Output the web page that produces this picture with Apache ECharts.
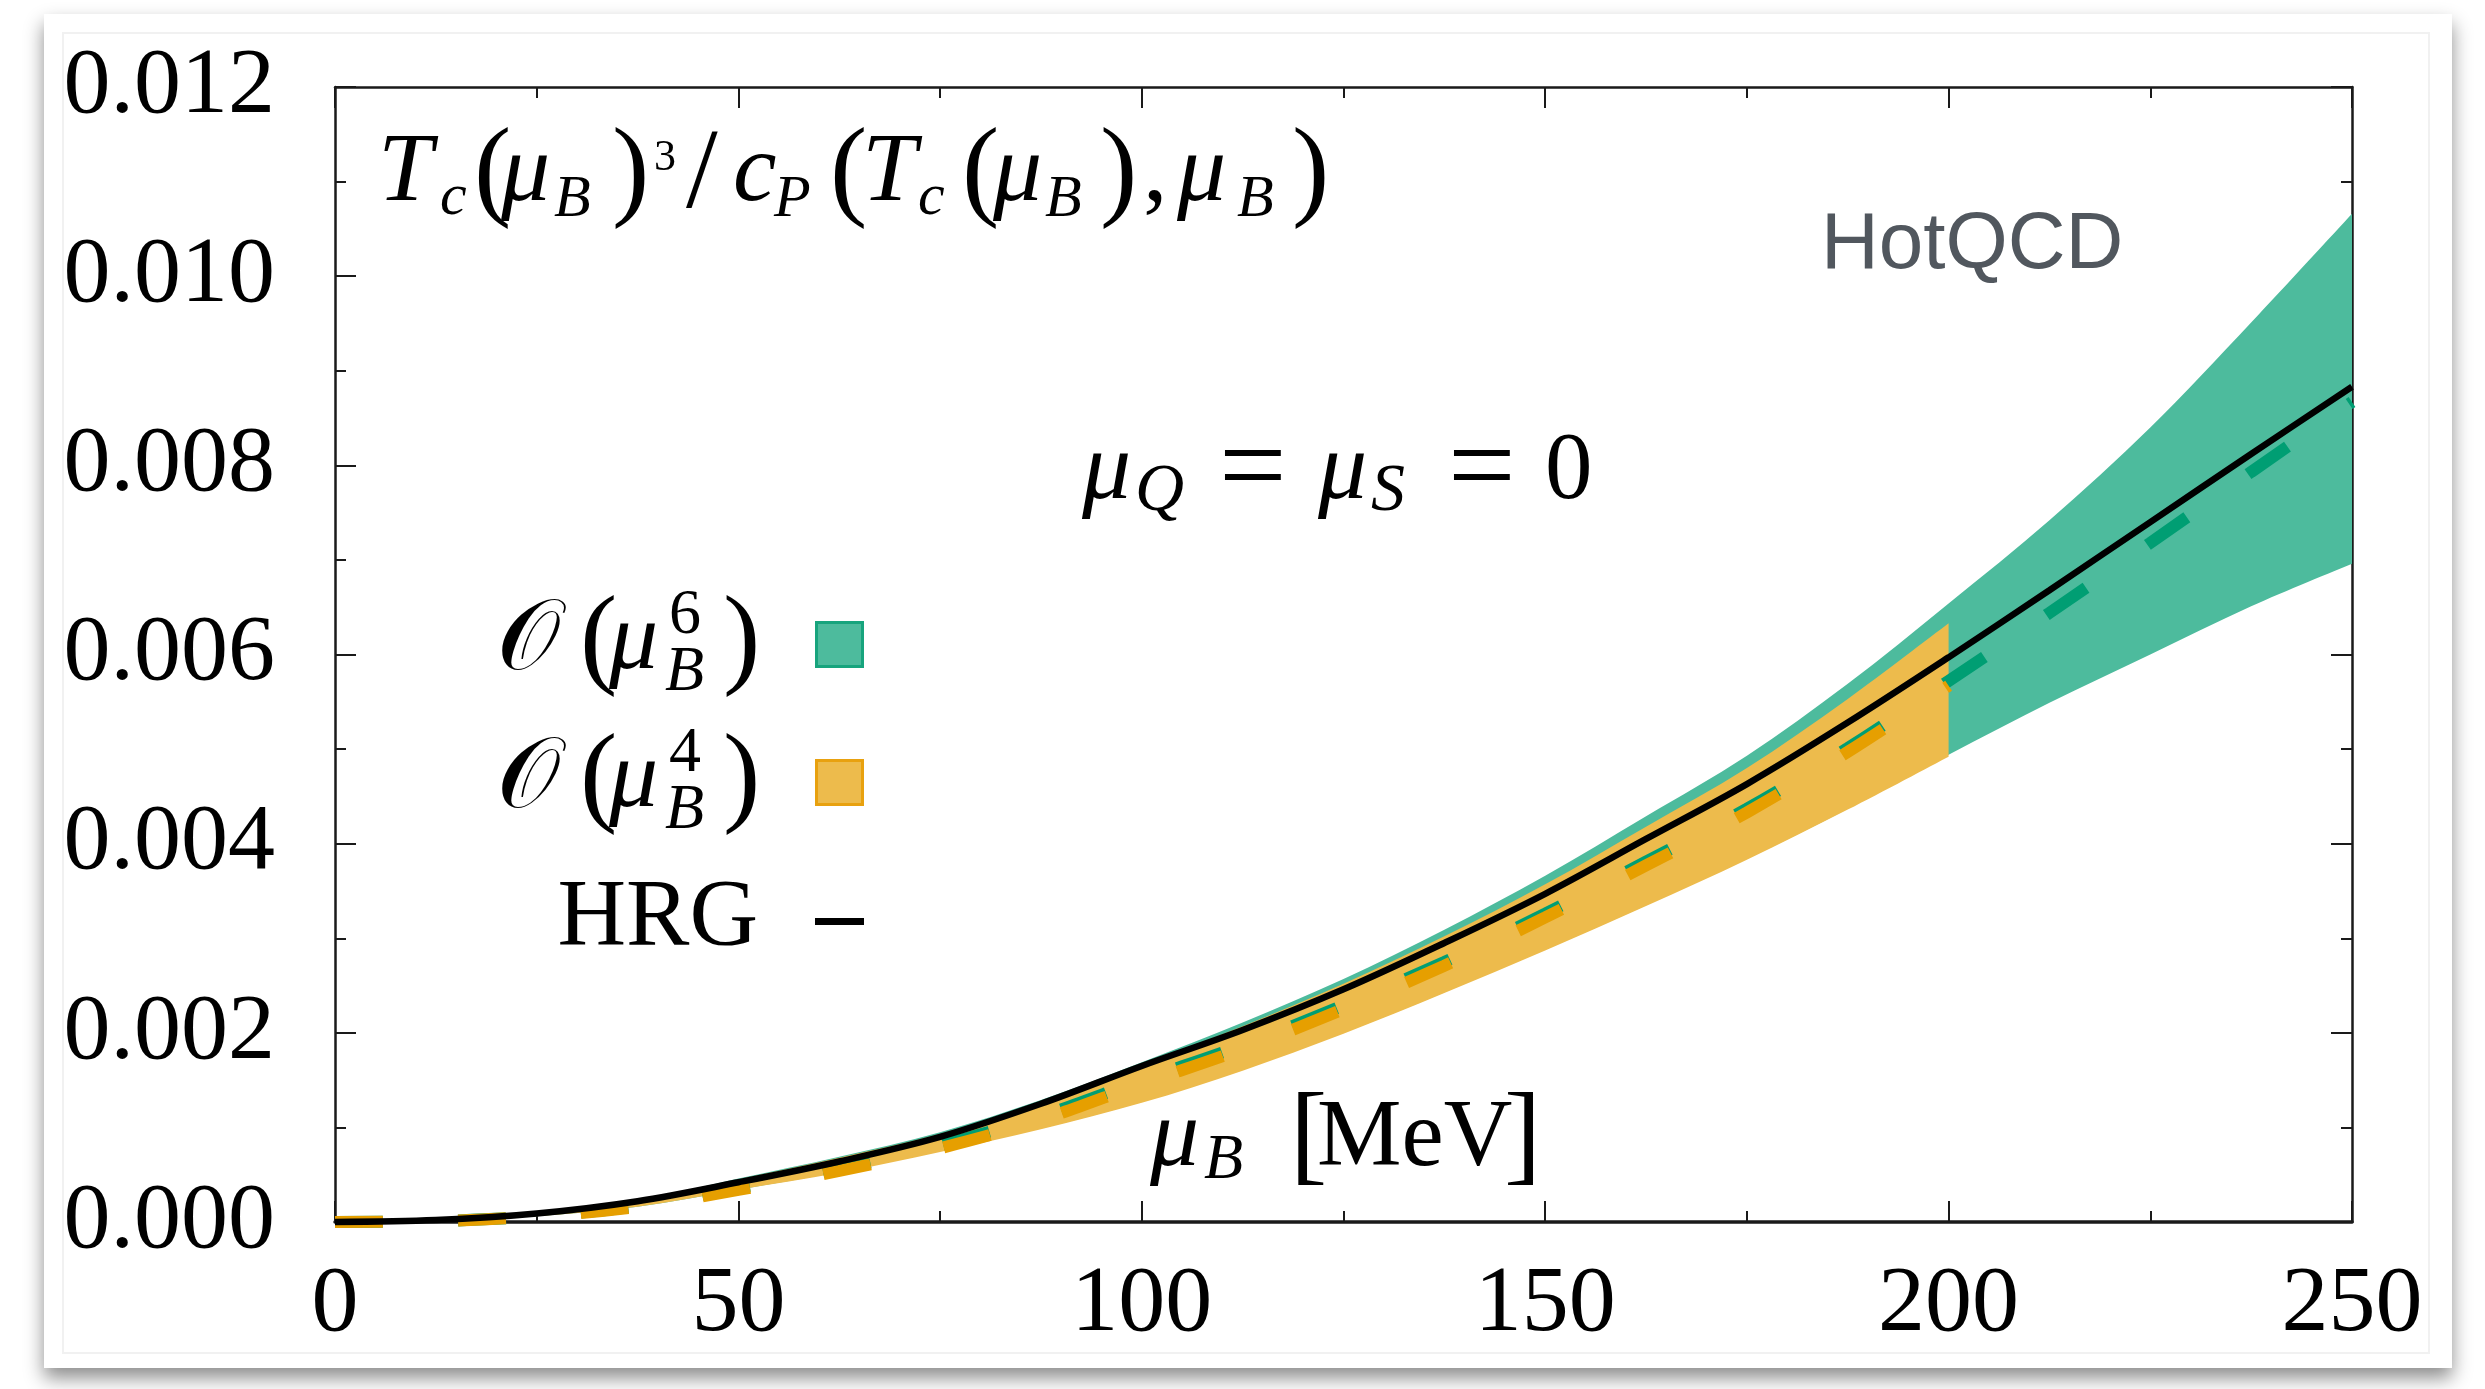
<!DOCTYPE html>
<html>
<head>
<meta charset="utf-8">
<script src="https://cdn.jsdelivr.net/npm/echarts@6/dist/echarts.min.js"></script>
<style>
  html, body { margin: 0; padding: 0; background: #ffffff; }
  #chart { width: 2485px; height: 1389px; }
</style>
</head>
<body>
<div id="chart"></div>
<script>
// Baryon chemical potential grid [MeV]
const muB = [0, 12.5, 25, 37.5, 50, 62.5, 75, 87.5, 100, 112.5, 125, 137.5, 150, 162.5, 175, 187.5, 200, 212.5, 225, 237.5, 250];
// the O(mu_B^4) expansion only reaches 200 MeV
const muB4 = muB.slice(0, 17);

// HRG curve
const hrg = [0, 0.00002, 0.00009, 0.00022, 0.00042, 0.00064, 0.00090, 0.00125, 0.00165, 0.00203, 0.00246, 0.00295, 0.00347, 0.00405, 0.00463, 0.00528, 0.00597, 0.00668, 0.00740, 0.00812, 0.00883];

// O(mu_B^6): band edges and central value
const o6Upper = [0, 0.00002, 0.00010, 0.00023, 0.00046, 0.00069, 0.00095, 0.00129, 0.00169, 0.00211, 0.00257, 0.00309, 0.00366, 0.00429, 0.00493, 0.00569, 0.00654, 0.00742, 0.00840, 0.00951, 0.01066];
const o6Lower = [0, 0.00001, 0.00006, 0.00016, 0.00034, 0.00053, 0.00075, 0.00099, 0.00127, 0.00161, 0.00200, 0.00243, 0.00288, 0.00335, 0.00384, 0.00437, 0.00494, 0.00549, 0.00600, 0.00651, 0.00696];
const o6Central = [0, 0.00001, 0.00006, 0.00017, 0.00036, 0.00056, 0.00081, 0.00112, 0.00150, 0.00187, 0.00229, 0.00275, 0.00326, 0.00381, 0.00437, 0.00501, 0.00572, 0.00644, 0.00718, 0.00793, 0.00867];

// O(mu_B^4): band edges and central value
const o4Upper = [0, 0.00002, 0.00009, 0.00022, 0.00045, 0.00068, 0.00093, 0.00127, 0.00166, 0.00207, 0.00252, 0.00302, 0.00357, 0.00418, 0.00480, 0.00553, 0.00633];
const o4Lower = [0, 0.00001, 0.00006, 0.00016, 0.00034, 0.00052, 0.00074, 0.00098, 0.00126, 0.00160, 0.00199, 0.00242, 0.00287, 0.00334, 0.00383, 0.00436, 0.00492];
const o4Central = [0, 0.00001, 0.00006, 0.00016, 0.00034, 0.00054, 0.00078, 0.00108, 0.00146, 0.00183, 0.00225, 0.00271, 0.00322, 0.00377, 0.00433, 0.00497, 0.00567];

// axis ranges and tick spacing
const xTicks = { min: 0, max: 250, interval: 50 };
const yTicks = { min: 0, max: 0.012, interval: 0.002 };

const TEAL = '#009e73', TEAL_FILL = '#4dbb9d', TEAL_EDGE = '#17a47d';
const ORANGE = '#e69f00', ORANGE_FILL = '#edbb4c', ORANGE_EDGE = '#e8a10f';
const SERIF = "'Liberation Serif', serif";
const SCRIPT = "'DejaVu Serif', 'DejaVu Sans', serif";
const SANS = "'Liberation Sans', Arial, sans-serif";

const chart = echarts.init(document.getElementById('chart'), null, { renderer: 'canvas' });

function pairs(xs, ys) { return xs.map((x, i) => [x, ys[i]]); }

// cubic Bezier segments through a list of screen points (Catmull-Rom)
function spline(p) {
  let d = '';
  for (let i = 0; i < p.length - 1; i++) {
    const p0 = p[Math.max(i - 1, 0)], p1 = p[i], p2 = p[i + 1], p3 = p[Math.min(i + 2, p.length - 1)];
    const c1 = [p1[0] + (p2[0] - p0[0]) / 6, p1[1] + (p2[1] - p0[1]) / 6];
    const c2 = [p2[0] - (p3[0] - p1[0]) / 6, p2[1] - (p3[1] - p1[1]) / 6];
    d += 'C' + c1.join(',') + ' ' + c2.join(',') + ' ' + p2.join(',');
  }
  return d;
}

// filled band between a lower and an upper curve
function band(name, xs, lo, hi, fill) {
  const rows = xs.map((x, i) => [x, lo[i], hi[i]]);
  return {
    type: 'custom', name, data: rows, silent: true, clip: false,
    encode: { x: 0, y: [1, 2] },
    renderItem(params, api) {
      if (params.dataIndex !== 0) return null;
      const up = rows.map(r => api.coord([r[0], r[2]]));
      const dn = rows.map(r => api.coord([r[0], r[1]])).reverse();
      const d = 'M' + up[0].join(',') + spline(up) + 'L' + dn[0].join(',') + spline(dn) + 'Z';
      return { type: 'path', shape: { pathData: d }, style: { fill } };
    }
  };
}

function dashed(name, xs, ys, color) {
  return {
    type: 'line', name, data: pairs(xs, ys), symbol: 'none', clip: false, silent: true, smooth: 0.35,
    lineStyle: { color, width: 12, type: [48, 75], cap: 'butt' }
  };
}

// text placed on an alphabetic baseline
const mctx = document.createElement('canvas').getContext('2d');
function middleOffset(font) {
  mctx.font = font;
  mctx.textBaseline = 'alphabetic';
  const a = mctx.measureText('H').actualBoundingBoxAscent;
  mctx.textBaseline = 'middle';
  const b = mctx.measureText('H').actualBoundingBoxAscent;
  return a - b;
}
function glyph(text, x, base, size, kind, extra) {
  const family = kind === 'c' ? SCRIPT : kind === 's' ? SANS : SERIF;
  const fontStyle = kind === 'i' ? 'italic' : 'normal';
  const font = fontStyle + ' ' + size + 'px ' + family;
  return {
    type: 'text', z: 100, silent: true,
    style: Object.assign({
      text, x, y: base - middleOffset(font),
      fontFamily: family, fontSize: size, fontStyle, fill: '#000',
      align: 'left', verticalAlign: 'middle'
    }, extra || {})
  };
}
function formula(parts) { return parts.map(p => glyph.apply(null, p)); }

// T_c(mu_B)^3 / c_P(T_c(mu_B), mu_B)
const titleText = formula([
  ['T', 378, 200, 98, 'i'], ['c', 440, 214, 60, 'i'], ['(', 474, 205, 112, 'r'],
  ['μ', 501, 200, 98, 'i'], ['B', 554, 216, 60, 'i'], [')', 612, 205, 112, 'r'],
  ['3', 654, 170, 44, 'r'], ['/', 686, 207, 114, 'r'],
  ['c', 733, 200, 98, 'i'], ['P', 774, 216, 60, 'i'], ['(', 830, 205, 112, 'r'],
  ['T', 862, 200, 98, 'i'], ['c', 918, 214, 60, 'i'], ['(', 962, 205, 112, 'r'],
  ['μ', 993, 200, 98, 'i'], ['B', 1045, 216, 60, 'i'], [')', 1100, 205, 112, 'r'],
  [',', 1143, 200, 98, 'r'], ['μ', 1177, 200, 98, 'i'], ['B', 1237, 216, 60, 'i'],
  [')', 1292, 205, 112, 'r']
]);

// mu_Q = mu_S = 0
const chargeText = formula([
  ['μ', 1082, 498, 98, 'i'], ['Q', 1135, 510, 68, 'i'], ['=', 1219, 505, 120, 'r'],
  ['μ', 1318, 498, 98, 'i'], ['S', 1371, 510, 68, 'i'], ['=', 1448, 505, 120, 'r'],
  ['0', 1545, 498, 95, 'r']
]);

// x-axis title mu_B [MeV]
const xTitle = formula([
  ['μ', 1150, 1165, 98, 'i'], ['B', 1204, 1178, 64, 'i'],
  ['[', 1290, 1170, 112, 'r'], ['MeV', 1317, 1165, 95, 'r'], [']', 1504, 1170, 112, 'r']
]);

function legendEntry(base, power) {
  return formula([
    ['𝒪', 497, base + 1, 100, 'c'], ['(', 580, base + 5, 112, 'r'], ['μ', 609, base, 98, 'i'],
    [power, 669, base - 35, 64, 'r'], ['B', 665, base + 22, 64, 'i'], [')', 723, base + 5, 112, 'r']
  ]);
}

const graphics = [
  // card with drop shadow
  { type: 'rect', z: -100, silent: true, shape: { x: 44, y: 14, width: 2408, height: 1354 },
    style: { fill: '#ffffff', shadowBlur: 18, shadowOffsetY: 10, shadowColor: 'rgba(0,0,0,0.45)' } },
  { type: 'rect', z: -99, silent: true, shape: { x: 63, y: 33, width: 2366, height: 1320 },
    style: { fill: 'none', stroke: '#f1f1f1', lineWidth: 2 } },
  glyph('HotQCD', 1821, 268, 80, 's', { fill: '#51575e' }),
  // legend keys
  { type: 'rect', z: 100, silent: true, shape: { x: 816.5, y: 622.5, width: 46, height: 44 },
    style: { fill: TEAL_FILL, stroke: TEAL_EDGE, lineWidth: 3 } },
  { type: 'rect', z: 100, silent: true, shape: { x: 816.5, y: 760.5, width: 46, height: 44 },
    style: { fill: ORANGE_FILL, stroke: ORANGE_EDGE, lineWidth: 3 } },
  { type: 'rect', z: 100, silent: true, shape: { x: 815, y: 918, width: 49, height: 7 }, style: { fill: '#000' } },
  glyph('HRG', 758, 945, 95, 'r', { align: 'right' })
].concat(titleText, chargeText, xTitle, legendEntry(668, '6'), legendEntry(806, '4'));

const tickStyle = { color: '#1a1a1a', width: 2 };
function axis(extra) {
  return Object.assign({
    type: 'value',
    axisLine: { show: true, onZero: false, lineStyle: { color: '#1a1a1a', width: 2.5 } },
    axisTick: { show: true, inside: true, length: 21, lineStyle: tickStyle },
    minorTick: { show: true, splitNumber: 2, length: 11, lineStyle: tickStyle },
    splitLine: { show: false },
    minorSplitLine: { show: false },
    axisLabel: { show: false }
  }, extra);
}
const labelFont = { fontFamily: SERIF, fontSize: 94, color: '#000' };

chart.setOption({
  animation: false,
  backgroundColor: '#ffffff',
  grid: { left: 335, top: 87, width: 2017, height: 1135, containLabel: false },
  xAxis: [
    axis(Object.assign({}, xTicks, {
      position: 'bottom',
      axisLine: { show: true, onZero: false, lineStyle: { color: '#1a1a1a', width: 3.5 } },
      axisLabel: Object.assign({ show: true, margin: 36 }, labelFont)
    })),
    axis(Object.assign({}, xTicks, { position: 'top' }))
  ],
  yAxis: [
    axis(Object.assign({}, yTicks, {
      position: 'left',
      axisLabel: Object.assign({ show: true, margin: 60, padding: [0, 0, 16, 0], formatter: v => v.toFixed(3) }, labelFont)
    })),
    axis(Object.assign({}, yTicks, { position: 'right' }))
  ],
  graphic: graphics,
  series: [
    band('O(μB^6)', muB, o6Lower, o6Upper, TEAL_FILL),
    band('O(μB^4)', muB4, o4Lower, o4Upper, ORANGE_FILL),
    dashed('O(μB^6) central', muB, o6Central, TEAL),
    dashed('O(μB^4) central', muB4, o4Central, ORANGE),
    { type: 'line', name: 'HRG', data: pairs(muB, hrg), symbol: 'none', clip: false, silent: true, smooth: 0.35,
      lineStyle: { color: '#000', width: 6.5 } }
  ]
});
</script>
</body>
</html>
